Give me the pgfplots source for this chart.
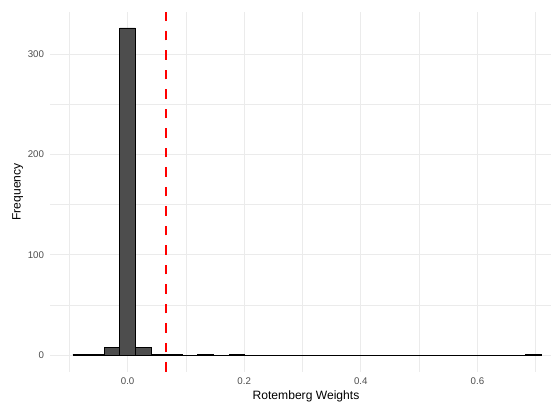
\documentclass[border=0pt]{standalone}
\usepackage{pgfplots}
\pgfplotsset{compat=1.18}
\usepackage{pgfplotstable}
\usepackage{fontspec}
\setmainfont{Liberation Sans}
\definecolor{barfill}{RGB}{77,77,77}
\definecolor{gridc}{RGB}{235,235,235}
\definecolor{tickc}{RGB}{77,77,77}
\pgfplotstableread{
x y
-0.09366 1
-0.06690 1
-0.04014 8
-0.01338 326
0.01338 8
0.04014 1
0.06690 1
0.09366 0
0.12042 1
0.14718 0
0.17394 1
0.20070 0
0.22746 0
0.25422 0
0.28098 0
0.30774 0
0.33450 0
0.36126 0
0.38802 0
0.41478 0
0.44154 0
0.46830 0
0.49506 0
0.52182 0
0.54858 0
0.57534 0
0.60210 0
0.62886 0
0.65562 0
0.68238 1
0.70914 1
}\histdata
\begin{document}
\begin{tikzpicture}
\begin{axis}[
  at={(50bp,31bp)}, anchor=south west,
  scale only axis, width=501bp, height=360bp,
  xmin=-0.1331, xmax=0.7262,
  ymin=-16.9, ymax=341.9,
  axis line style={draw=none},
  major tick length=0pt, minor tick length=0pt,
  tick style={draw=none},
  xtick={0,0.2,0.4,0.6},
  minor xtick={-0.1,0.1,0.3,0.5,0.7},
  ytick={0,100,200,300},
  minor ytick={50,150,250},
  grid=both,
  major grid style={draw=gridc, line width=1bp},
  minor grid style={draw=gridc, line width=0.55bp},
  /pgf/number format/assume math mode=true,
  xticklabel style={font=\fontsize{9.7bp}{11bp}\selectfont, text=tickc, anchor=north, yshift=-2.5bp,
    /pgf/number format/.cd, fixed, fixed zerofill, precision=1},
  yticklabel style={font=\fontsize{9.7bp}{11bp}\selectfont, text=tickc, anchor=east, xshift=-2.5bp},
  scaled x ticks=false,
  xlabel={Rotemberg Weights},
  ylabel={Frequency},
  xlabel style={font=\fontsize{12.1bp}{14bp}\selectfont, at={(axis cs:0.306,-35.5)}, anchor=north, inner sep=0pt},
  ylabel style={font=\fontsize{12.1bp}{14bp}\selectfont, at={(axis cs:-0.1983,162.5)}, anchor=north, inner sep=0pt},
]
\addplot[ybar interval, fill=barfill, draw=black, line width=0.8bp] table[x=x,y=y] {\histdata};
\addplot[draw=red, line width=2.2bp, dash pattern=on 9.5bp off 10bp] coordinates {(0.0657,-16.9) (0.0657,341.9)};
\end{axis}
\pgfresetboundingbox
\useasboundingbox (0,0) rectangle (551bp,403bp);
\end{tikzpicture}
\end{document}
